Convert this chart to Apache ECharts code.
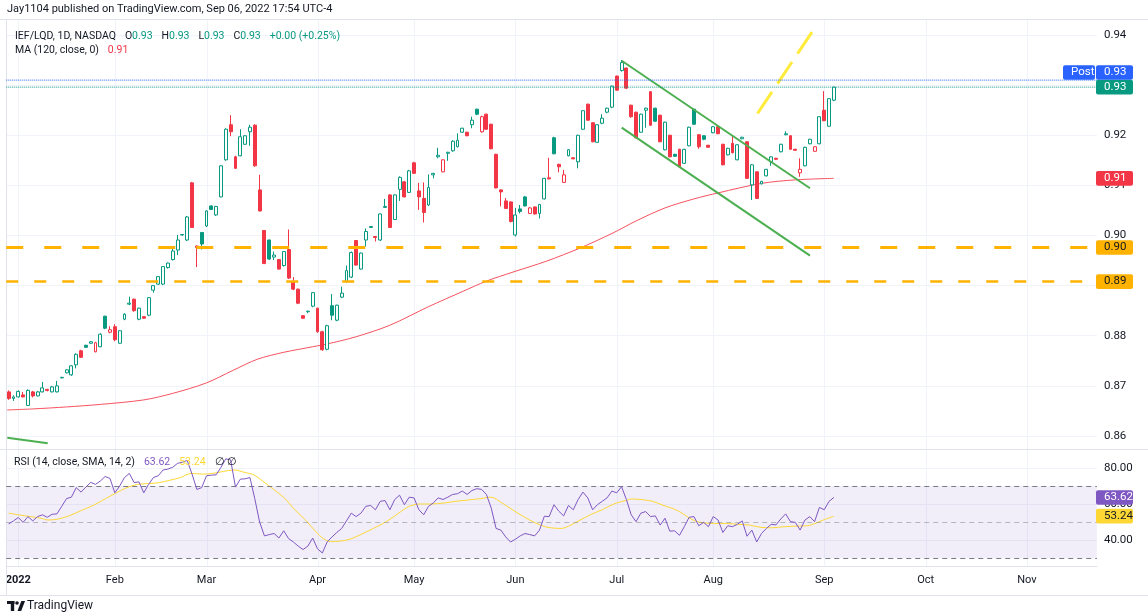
<!DOCTYPE html>
<html>
<head>
<meta charset="utf-8">
<script src="https://cdn.jsdelivr.net/npm/echarts@6.0.0/dist/echarts.min.js"></script>
<style>
html,body{margin:0;padding:0;background:#ffffff;}
#chart{width:1148px;height:616px;}
</style>
</head>
<body>
<div id="chart"></div>
<script>
// ================= DATA =================
const START_DATE = '2021-12-30';
const SLOT_COUNT = 226; // trading-day slots shown on the time axis (data + right margin)
const HOLIDAYS = ['2022-01-17','2022-02-21','2022-04-15','2022-05-30','2022-06-20','2022-07-04','2022-09-05'];
const MONTH_NAMES = ['Jan','Feb','Mar','Apr','May','Jun','Jul','Aug','Sep','Oct','Nov','Dec'];

const opens = [
.8688,.8675,.8678,.8682,.8661,.8688,.8680,.8688,.8693,.8688,
.8688,.8716,.8726,.8722,.8742,.8770,.8781,.8785,.8768,.8778,
.8839,.8807,.8818,.8785,.8833,.8863,.8873,.8833,.8838,.8841,
.8891,.8903,.8903,.8936,.8952,.8971,.9001,.8991,.9105,.8976,
.9006,.9019,.9059,.9041,.9077,.9151,.9221,.9157,.9159,.9182,
.9207,.9220,.9091,.9010,.8991,.8957,.8952,.8940,.8972,.8908,
.8893,.8840,.8848,.8859,.8855,.8808,.8773,.8860,.8831,.8877,
.8908,.8917,.8990,.8933,.8991,.9016,.8998,.8991,.9056,.9081,
.9032,.9092,.9107,.9086,.9145,.9089,.9074,.9061,.9121,.9157,
.9127,.9164,.9169,.9177,.9206,.9206,.9221,.9252,.9207,.9242,
.9222,.9162,.9091,.9069,.9067,.9001,.9053,.9077,.9044,.9057,
.9044,.9073,.9115,.9195,.9142,.9106,.9159,.9155,.9147,.9212,
.9262,.9225,.9186,.9224,.9246,.9256,.9318,.9329,.9334,.9260,
.9246,.9206,.9250,.9287,.9254,.9240,.9171,.9200,.9162,.9172,
.9144,.9179,.9252,.9201,.9199,.9180,.9205,.9217,.9182,.9161,
.9184,.9151,.9193,.9187,.9101,.9127,.9103,.9119,.9147,.9154,
.9167,.9201,.9199,.9172,.9125,.9139,.9183,.9168,.9183,.9250,
.9218,.9270];
const highs = [
.8691,.8681,.8691,.8688,.8693,.8690,.8690,.8708,.8694,.8700,
.8710,.8718,.8733,.8741,.8765,.8772,.8782,.8789,.8788,.8805,
.8840,.8819,.8823,.8811,.8845,.8878,.8874,.8856,.8839,.8877,
.8901,.8919,.8939,.8946,.8974,.9001,.9003,.9039,.9107,.8980,
.9007,.9050,.9060,.9059,.9140,.9214,.9240,.9159,.9212,.9200,
.9221,.9222,.9121,.9011,.8992,.8968,.8953,.8969,.9012,.8917,
.8894,.8841,.8850,.8887,.8856,.8810,.8822,.8883,.8862,.8898,
.8940,.8968,.8991,.8966,.9014,.9019,.8999,.9044,.9073,.9082,
.9082,.9118,.9109,.9131,.9147,.9105,.9106,.9122,.9125,.9175,
.9152,.9167,.9190,.9204,.9215,.9207,.9237,.9253,.9239,.9243,
.9223,.9163,.9092,.9075,.9068,.9055,.9061,.9079,.9057,.9058,
.9063,.9115,.9155,.9197,.9143,.9131,.9172,.9156,.9201,.9250,
.9263,.9226,.9222,.9242,.9255,.9299,.9319,.9350,.9335,.9261,
.9247,.9243,.9255,.9288,.9255,.9241,.9227,.9201,.9163,.9173,
.9173,.9217,.9253,.9202,.9200,.9181,.9218,.9218,.9183,.9175,
.9200,.9182,.9197,.9188,.9142,.9128,.9109,.9133,.9158,.9155,
.9183,.9208,.9200,.9173,.9154,.9177,.9193,.9178,.9238,.9288,
.9274,.9297];
const lows = [
.8672,.8670,.8677,.8677,.8660,.8677,.8679,.8687,.8689,.8687,
.8687,.8715,.8725,.8720,.8735,.8756,.8776,.8784,.8767,.8777,
.8813,.8805,.8789,.8784,.8831,.8861,.8848,.8831,.8834,.8839,
.8886,.8901,.8901,.8934,.8950,.8961,.9000,.8989,.9015,.8937,
.8972,.9017,.9051,.9039,.9076,.9149,.9198,.9133,.9158,.9181,
.9179,.9137,.9048,.8943,.8951,.8951,.8932,.8938,.8913,.8891,
.8863,.8834,.8845,.8857,.8806,.8770,.8771,.8831,.8829,.8875,
.8906,.8915,.8940,.8932,.8978,.9015,.8988,.8989,.9055,.9015,
.9031,.9069,.9076,.9085,.9123,.9051,.9026,.9059,.9114,.9154,
.9126,.9149,.9167,.9176,.9205,.9198,.9214,.9240,.9205,.9211,
.9172,.9094,.9058,.9053,.9026,.8998,.9044,.9058,.9043,.9042,
.9034,.9072,.9112,.9162,.9126,.9105,.9158,.9152,.9134,.9211,
.9229,.9186,.9185,.9222,.9244,.9254,.9289,.9327,.9292,.9235,
.9194,.9205,.9215,.9219,.9227,.9186,.9170,.9156,.9157,.9136,
.9143,.9178,.9221,.9173,.9190,.9175,.9204,.9202,.9140,.9160,
.9164,.9150,.9192,.9113,.9071,.9073,.9102,.9118,.9139,.9151,
.9166,.9200,.9171,.9169,.9117,.9138,.9182,.9167,.9182,.9228,
.9217,.9268];
const closes = [
.8675,.8678,.8689,.8678,.8691,.8680,.8688,.8696,.8691,.8698,
.8700,.8717,.8732,.8740,.8763,.8757,.8777,.8788,.8786,.8803,
.8815,.8812,.8792,.8810,.8843,.8865,.8850,.8855,.8835,.8876,
.8900,.8918,.8938,.8945,.8969,.8991,.9002,.9037,.9016,.8979,
.8983,.9049,.9052,.9058,.9139,.9212,.9207,.9134,.9197,.9199,
.9216,.9139,.9049,.8944,.8953,.8961,.8933,.8968,.8915,.8893,
.8865,.8835,.8849,.8886,.8808,.8772,.8820,.8841,.8861,.8885,
.8930,.8966,.8941,.8965,.9008,.9018,.8996,.9043,.9058,.9016,
.9081,.9116,.9077,.9129,.9124,.9077,.9046,.9096,.9124,.9160,
.9151,.9166,.9188,.9190,.9214,.9199,.9230,.9242,.9237,.9212,
.9173,.9095,.9087,.9054,.9028,.9041,.9048,.9059,.9055,.9043,
.9062,.9114,.9113,.9163,.9137,.9121,.9171,.9153,.9200,.9249,
.9230,.9187,.9221,.9234,.9254,.9298,.9290,.9345,.9294,.9237,
.9195,.9242,.9254,.9220,.9228,.9187,.9226,.9157,.9158,.9137,
.9172,.9216,.9222,.9177,.9192,.9176,.9217,.9203,.9141,.9174,
.9165,.9181,.9196,.9114,.9141,.9074,.9108,.9132,.9157,.9152,
.9182,.9203,.9172,.9170,.9132,.9176,.9192,.9177,.9237,.9229,
.9273,.9296];

// MA(120): [bar index, value]
const maPoints = [[-0.3,0.8652],[5,0.8654],[12,0.8658],[19,0.8663],[28,0.8672],[34,0.8685],[41,0.8706],
[46.5,0.8731],[51.5,0.8753],[57,0.8767],[63,0.8778],[66.6,0.8785],[72,0.8798],[79,0.8821],[87,0.8858],
[94,0.8888],[99,0.8909],[104.5,0.8927],[111.5,0.8949],[118.4,0.8975],[125,0.9004],[130,0.9029],
[136,0.9055],[142,0.9073],[147,0.9085],[156,0.9104],[163,0.9111],[171,0.9114]];

const rsiValues = [
48.9,50.6,52.5,49.8,53.0,50.6,53.0,54.0,52.6,54.3,
54.5,58.7,63.0,63.8,69.1,66.6,69.4,72.0,70.9,72.8,
75.3,74.2,66.2,70.0,74.7,77.0,71.9,72.3,66.2,70.9,
74.7,75.7,78.9,79.4,80.4,82.6,83.2,84.2,76.6,68.1,
69.1,75.7,76.0,76.2,80.4,85.1,84.5,69.4,73.8,74.0,
74.7,63.0,50.0,42.3,43.0,43.6,41.1,45.1,40.8,38.9,
36.6,34.7,36.6,41.1,35.1,32.8,38.9,41.7,44.2,46.4,
50.6,54.9,53.0,54.9,58.7,59.2,56.8,61.5,61.9,56.8,
62.5,64.9,59.6,63.8,63.4,56.8,54.0,58.7,60.6,63.4,
62.5,63.8,65.3,65.7,67.2,65.3,67.5,68.5,68.1,65.3,
57.7,46.4,45.5,41.7,38.9,40.4,42.3,43.6,43.0,42.3,
45.5,53.2,53.0,59.6,56.0,53.4,59.2,56.8,62.5,66.6,
63.4,56.8,59.6,61.5,63.4,67.2,66.2,69.6,62.5,54.0,
50.2,54.9,55.8,53.0,53.4,48.3,52.1,44.9,45.1,42.6,
47.4,52.6,53.0,47.9,49.8,47.4,53.0,51.1,44.2,47.9,
47.4,48.7,50.6,42.1,45.5,38.9,43.6,46.4,48.7,48.4,
51.7,54.5,50.2,49.8,45.5,51.1,53.0,50.2,58.1,56.8,
61.5,63.62];

const rsiSmaPoints = [[0,54.9],[2,54.0],[4.5,53.0],[6.7,52.1],[8.2,51.1],[10.4,51.7],[12.7,53.6],[14.9,56.2],
[17.8,59.6],[20.1,63.0],[22.3,66.2],[24.5,69.1],[26.7,70.9],[29,71.3],[31.2,71.9],[33.4,73.2],[35.6,74.7],
[37.8,77.0],[40.1,76.6],[42.3,77.0],[44.5,78.1],[46.7,78.9],[49,77.5],[50.8,76.2],[52.6,72.8],[54.9,68.1],
[57.1,63.4],[59.3,56.8],[61.5,51.1],[63.7,44.5],[65.2,40.8],[66.7,39.2],[68.9,39.4],[71.1,40.8],[73.4,43.6],
[76.3,47.4],[78.5,50.6],[80.8,54.9],[83,58.7],[85.2,60.0],[87.4,60.0],[90.4,60.6],[92.6,61.5],[94.8,62.1],
[97.8,63.0],[100,63.8],[102.2,60.6],[104.4,56.8],[106.7,53.0],[108.9,49.8],[111.1,47.4],[113,46.6],
[114.5,46.4],[116.5,48.3],[118.1,50.6],[120.5,54.0],[123,56.8],[125.4,60.0],[127.8,61.9],[129.1,62.8],
[131,62.5],[133.4,61.5],[135.8,59.1],[137.4,57.7],[139,55.8],[140.6,53.0],[142.2,50.6],[143.8,49.6],
[146.3,49.2],[148.7,49.2],[151.1,48.7],[153.5,48.3],[155.9,47.0],[158.3,46.8],[160.7,47.4],[163.1,47.7],
[165.5,47.9],[167.1,49.2],[168.8,51.1],[171,53.24]];

const levelLines = [0.8976, 0.8908];
const postPrice = 0.9310;
const channelUpper = [[127.03,0.93487],[166.05,0.90942]];
const channelLower = [[127.03,0.92151],[166.05,0.89597]];
const yellowTrend = [[155.17,0.92434],[166.47,0.9406]];
const leftGreenLine = [[-0.28,0.85966],[8.09,0.85854]];
const priceAxis = {min:0.86, max:0.94, step:0.01};
const rsiAxis = {min:40, max:80, step:20};
const rsiBands = [70, 50, 30];

// ================= LAYOUT =================
const W = 1148, H = 616;
const SLOT = 4.826;
const PLOT_L = 8.65 - SLOT/2;
const PLOT_W = SLOT*SLOT_COUNT;
const MAIN_TOP = 20, PANE_SEP = 449, RSI_BOTTOM = 566;
const PRICE_TOP = 35, PRICE_H = 401;
const RSI_LBL_TOP = 468, RSI_LBL_H = 72;
const rsiPx = RSI_LBL_H/(rsiAxis.max-rsiAxis.min);
const rsiFullMax = rsiAxis.max + (RSI_LBL_TOP-PANE_SEP)/rsiPx;
const rsiFullMin = rsiAxis.min - (RSI_BOTTOM-(RSI_LBL_TOP+RSI_LBL_H))/rsiPx;
const FONT = 'Roboto, "Liberation Sans", Arial, sans-serif';
const TXT = '#131722';
const UP = '#089981', DOWN = '#F23645';
const LEG = 10.5;

// trading dates
function buildDates(){
  const out = [];
  const p = START_DATE.split('-').map(Number);
  const d = new Date(Date.UTC(p[0], p[1]-1, p[2]));
  while (out.length < SLOT_COUNT){
    const s = d.toISOString().slice(0,10);
    const dow = d.getUTCDay();
    if (dow !== 0 && dow !== 6 && HOLIDAYS.indexOf(s) < 0) out.push(s);
    d.setUTCDate(d.getUTCDate()+1);
  }
  return out;
}
const dates = buildDates();
const monthStarts = [];
for (let i = 1; i < dates.length; i++) if (dates[i].slice(5,7) !== dates[i-1].slice(5,7)) monthStarts.push(i);
const monthStartSet = new Set(monthStarts);

const candleData = closes.map((c,i)=>{
  const o = opens[i];
  const prev = i>0 ? closes[i-1] : o;
  const col = c >= prev ? UP : DOWN;
  const hollow = c > o;
  return {value:[o,c,lows[i],highs[i]],
    itemStyle: hollow ? {color:'#ffffff', color0:'#ffffff', borderColor:col, borderColor0:col}
                      : {color:col, color0:col, borderColor:col, borderColor0:col}};
});

const last = closes.length-1;
const lastClose = closes[last], prevClose = closes[last-1];
const chg = lastClose - prevClose;
const sgn = v => (v>=0?'+':'-');
const f2 = v => v.toFixed(2);
const maLast = maPoints[maPoints.length-1][1];
const rsiLast = rsiValues[rsiValues.length-1];
const smaLast = rsiSmaPoints[rsiSmaPoints.length-1][1];

const chart = echarts.init(document.getElementById('chart'), null, {renderer:'canvas', width:W, height:H});

function lineSeries(data, style, extra){
  return Object.assign({type:'line', xAxisIndex:2, yAxisIndex:1, data:data, symbol:'none', silent:true,
    animation:false, lineStyle:style, z:6}, extra||{});
}
function rs(color){ return {fontSize:LEG, color:color, fontFamily:FONT, fontWeight:'normal'}; }

const gridBase = {left:PLOT_L, width:PLOT_W, containLabel:false, outerBoundsMode:'none'};

const option = {
  animation:false,
  backgroundColor:'#ffffff',
  textStyle:{fontFamily:FONT},
  title:[
    {left:7, top:4, padding:0, text:'Jay1104 published on TradingView.com, Sep 06, 2022 17:54 UTC-4',
     textStyle:{fontSize:11, fontWeight:'normal', color:TXT, fontFamily:FONT}},
    {left:15, top:27, padding:0, text:'{d|IEF/LQD, 1D, NASDAQ}  {d|O}{g|'+f2(opens[last])+'}  {d|H}{g|'+f2(highs[last])+'}  {d|L}{g|'+f2(lows[last])+'}  {d|C}{g|'+f2(lastClose)+'}  {g|'+sgn(chg)+f2(Math.abs(chg))+' ('+sgn(chg)+(Math.abs(chg)/prevClose*100).toFixed(2)+'%)}',
     textStyle:{fontWeight:'normal', rich:{d:rs(TXT), g:rs(UP)}}},
    {left:15, top:41.5, padding:0, text:'{d|MA (120, close, 0)}  {r|'+f2(maLast)+'}',
     textStyle:{fontWeight:'normal', rich:{d:rs(TXT), r:rs(DOWN)}}},
    {left:14, top:453, padding:0, text:'{d|RSI (14, close, SMA, 14, 2)}  {p|'+f2(rsiLast)+'}  {y|'+f2(smaLast)+'}  {d|\u2205 \u2205}',
     textStyle:{fontWeight:'normal', rich:{d:rs(TXT), p:rs('#7E57C2'), y:rs('#FDD835')}}},
    {left:27, top:599.5, padding:0, text:'TradingView', textStyle:{fontSize:12, fontWeight:'normal', color:TXT, fontFamily:FONT}}
  ],
  grid:[
    Object.assign({top:MAIN_TOP, height:RSI_BOTTOM-MAIN_TOP}, gridBase),
    Object.assign({top:PRICE_TOP, height:PRICE_H}, gridBase),
    Object.assign({top:RSI_LBL_TOP, height:RSI_LBL_H}, gridBase),
    Object.assign({top:PANE_SEP, height:RSI_BOTTOM-PANE_SEP}, gridBase)
  ],
  xAxis:[
    {gridIndex:0, type:'category', data:dates, boundaryGap:true,
     axisLine:{show:true, lineStyle:{color:'#e0e3eb'}}, axisTick:{show:false}, splitLine:{show:false},
     axisLabel:{interval:(i)=>monthStartSet.has(i), color:TXT, fontSize:11, fontFamily:FONT, margin:9,
       formatter:(v)=>{const m=+v.slice(5,7); return m===1 ? '{y|'+v.slice(0,4)+'}' : MONTH_NAMES[m-1];},
       rich:{y:{fontWeight:'bold', color:TXT, fontSize:11, fontFamily:FONT}}}},
    {gridIndex:1, type:'category', data:dates, boundaryGap:true, show:false},
    {gridIndex:1, type:'value', min:-0.5, max:SLOT_COUNT-0.5, show:false},
    {gridIndex:2, type:'category', data:dates, boundaryGap:true, show:false},
    {gridIndex:3, type:'category', data:dates, boundaryGap:true, show:false},
    {gridIndex:3, type:'value', min:-0.5, max:SLOT_COUNT-0.5, show:false}
  ],
  yAxis:[
    {gridIndex:0, type:'value', min:0, max:1, show:false},
    {gridIndex:1, type:'value', position:'right', min:priceAxis.min, max:priceAxis.max, interval:priceAxis.step,
     axisLine:{show:false}, axisTick:{show:false},
     axisLabel:{formatter:v=>v.toFixed(2), color:TXT, fontSize:11.5, fontFamily:FONT, margin:7},
     splitLine:{show:true, lineStyle:{color:'#f0f3fa', width:1}}},
    {gridIndex:2, type:'value', position:'right', min:rsiAxis.min, max:rsiAxis.max, interval:rsiAxis.step,
     axisLine:{show:false}, axisTick:{show:false},
     axisLabel:{formatter:v=>v.toFixed(2), color:TXT, fontSize:11.5, fontFamily:FONT, margin:7},
     splitLine:{show:true, lineStyle:{color:'#f0f3fa', width:1}}},
    {gridIndex:3, type:'value', min:rsiFullMin, max:rsiFullMax, show:false}
  ],
  series:[
    {type:'custom', xAxisIndex:0, yAxisIndex:0, silent:true, z:0,
     data: monthStarts.map(i=>[i,0]),
     renderItem:(params, api)=>{
       const a = api.coord([api.value(0), 0]);
       const b = api.coord([api.value(0), 1]);
       const x = Math.round(a[0]) + 0.5;
       return {type:'line', shape:{x1:x, y1:b[1], x2:x, y2:a[1]}, style:{stroke:'#f0f3fa', lineWidth:1}};
     }},
    lineSeries(maPoints, {color:'#F7525F', width:1}, {smooth:0.3, z:3}),
    {type:'candlestick', xAxisIndex:1, yAxisIndex:1, data:candleData, barWidth:3.4, z:4, silent:true,
     itemStyle:{borderWidth:1}},
    lineSeries([[-0.5,levelLines[0]],[SLOT_COUNT-0.5,levelLines[0]]], {color:'#FFB300', width:3, type:[17,21]}),
    lineSeries([[-0.5,levelLines[1]],[SLOT_COUNT-0.5,levelLines[1]]], {color:'#FFB300', width:2.5, type:[12,16]}),
    lineSeries(channelUpper, {color:'#4CAF50', width:2}),
    lineSeries(channelLower, {color:'#4CAF50', width:2}),
    lineSeries(yellowTrend, {color:'#FFEB3B', width:3, type:[26,10]}, {clip:false}),
    lineSeries(leftGreenLine, {color:'#4CAF50', width:2}, {clip:false}),
    lineSeries([[-0.5,postPrice],[SLOT_COUNT-0.5,postPrice]], {color:'#2962FF', width:1, type:'dotted'}),
    lineSeries([[-0.5,lastClose],[SLOT_COUNT-0.5,lastClose]], {color:UP, width:1, type:'dotted'}),
    {type:'line', xAxisIndex:4, yAxisIndex:3, data:rsiValues, symbol:'none', silent:true, z:5,
     lineStyle:{color:'#7E57C2', width:1},
     markArea:{silent:true, itemStyle:{color:'rgba(126,87,194,0.1)'}, data:[[{yAxis:rsiBands[2]},{yAxis:rsiBands[0]}]]},
     markLine:{silent:true, symbol:['none','none'], label:{show:false},
       data: rsiBands.map(v=>({yAxis:v, lineStyle:{color: v===50 ? 'rgba(120,123,134,0.5)' : '#787B86', width:1, type:[5,4]}}))}},
    {type:'line', xAxisIndex:5, yAxisIndex:3, data:rsiSmaPoints, symbol:'none', silent:true, smooth:0.3, z:4,
     lineStyle:{color:'#FDD835', width:1}}
  ]
};
chart.setOption(option);

// ---- price-scale label boxes, positioned through the axes ----
const yP = v => chart.convertToPixel({yAxisIndex:1}, v);
const yR = v => chart.convertToPixel({yAxisIndex:3}, v);
const BOX_X = Math.round(PLOT_L + PLOT_W) - 1, BOX_W = 37, BOX_H = 14.6;
function box(yc, txt, bg, fg, x, w){
  x = x===undefined ? BOX_X : x; w = w===undefined ? BOX_W : w;
  return [
    {type:'rect', z:100, silent:true, shape:{x:x, y:yc-BOX_H/2, width:w, height:BOX_H, r:2}, style:{fill:bg}},
    {type:'text', z:101, silent:true, x:x+8, y:yc, style:{text:txt, fill:fg, font:'11.5px '+FONT,
      textVerticalAlign:'middle', verticalAlign:'middle', textAlign:'left', align:'left'}}
  ];
}
const gClose = yP(lastClose);
const gPost = gClose - BOX_H;
let els = [];
els = els.concat(box(gClose, f2(lastClose), UP, '#ffffff'));
els = els.concat(box(gPost, f2(postPrice), '#2962FF', '#ffffff'));
els = els.concat(box(gPost, 'Post', '#2962FF', '#ffffff', BOX_X-33, 32));
els = els.concat(box(yP(maLast), f2(maLast), DOWN, '#ffffff'));
els = els.concat(box(yP(levelLines[0]), f2(levelLines[0]), '#FFB300', TXT));
els = els.concat(box(yP(levelLines[1]), f2(levelLines[1]), '#FFB300', TXT));
els = els.concat(box(yR(rsiLast), f2(rsiLast), '#7E57C2', '#ffffff'));
els = els.concat(box(yR(smaLast), f2(smaLast), '#FDD835', TXT));
// frame lines
const frame = '#e0e3eb';
[[0,19.5,W,19.5],[0,PANE_SEP+0.5,W,PANE_SEP+0.5],[0,595.5,W,595.5],[6.5,19.5,6.5,595.5]].forEach(s=>{
  els.push({type:'line', z:1, silent:true, shape:{x1:s[0],y1:s[1],x2:s[2],y2:s[3]}, style:{stroke:frame, lineWidth:1}});
});
// TradingView logo mark
els.push({type:'rect', z:100, silent:true, shape:{x:7, y:601, width:7.5, height:3}, style:{fill:TXT}});
els.push({type:'rect', z:100, silent:true, shape:{x:10.8, y:601, width:3.4, height:10}, style:{fill:TXT}});
els.push({type:'circle', z:100, silent:true, shape:{cx:17, cy:603, r:1.8}, style:{fill:TXT}});
els.push({type:'polygon', z:100, silent:true, shape:{points:[[17.5,611],[21.3,601],[25,601],[21.2,611]]}, style:{fill:TXT}});
chart.setOption({graphic:{elements:els}});
</script>
</body>
</html>
